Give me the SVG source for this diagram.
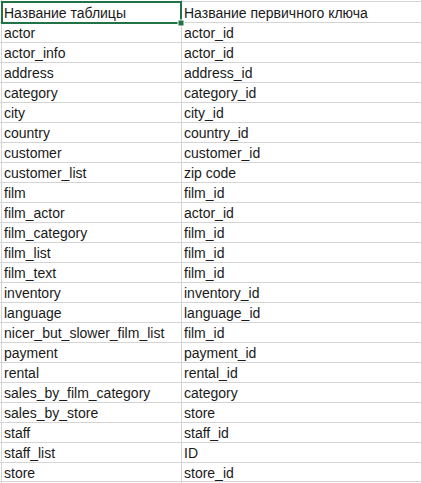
<svg xmlns="http://www.w3.org/2000/svg" width="422" height="483" viewBox="0 0 422 483">
<style>
text{font-family:"Liberation Sans",Arial,sans-serif;font-size:14px;fill:#1a1a1a}
.g{stroke:#d4d4d4;stroke-width:1;fill:none}
.sel{fill:none;stroke:#217346;stroke-width:2}
</style>
<rect width="422" height="483" fill="#ffffff"/>
<g id="grid">
<path class="g" d="M0 1.5H422M0 22.5H422M0 42.5H422M0 62.5H422M0 82.5H422M0 102.5H422M0 122.5H422M0 142.5H422M0 162.5H422M0 182.5H422M0 202.5H422M0 222.5H422M0 242.5H422M0 262.5H422M0 282.5H422M0 302.5H422M0 322.5H422M0 342.5H422M0 362.5H422M0 382.5H422M0 402.5H422M0 422.5H422M0 442.5H422M0 462.5H422M0 481.5H422"/>
<path class="g" d="M1.5 0V483M181.5 0V483M421.5 0V483"/>
</g>
<g id="header">
<text x="4" y="18">Название таблицы</text>
<text x="184" y="18">Название первичного ключа</text>
</g>
<g id="r1"><text x="4" y="38">actor</text><text x="184" y="38">actor_id</text></g>
<g id="r2"><text x="4" y="58">actor_info</text><text x="184" y="58">actor_id</text></g>
<g id="r3"><text x="4" y="78">address</text><text x="184" y="78">address_id</text></g>
<g id="r4"><text x="4" y="98">category</text><text x="184" y="98">category_id</text></g>
<g id="r5"><text x="4" y="118">city</text><text x="184" y="118">city_id</text></g>
<g id="r6"><text x="4" y="138">country</text><text x="184" y="138">country_id</text></g>
<g id="r7"><text x="4" y="158">customer</text><text x="184" y="158">customer_id</text></g>
<g id="r8"><text x="4" y="178">customer_list</text><text x="184" y="178">zip code</text></g>
<g id="r9"><text x="4" y="198">film</text><text x="184" y="198">film_id</text></g>
<g id="r10"><text x="4" y="218">film_actor</text><text x="184" y="218">actor_id</text></g>
<g id="r11"><text x="4" y="238">film_category</text><text x="184" y="238">film_id</text></g>
<g id="r12"><text x="4" y="258">film_list</text><text x="184" y="258">film_id</text></g>
<g id="r13"><text x="4" y="278">film_text</text><text x="184" y="278">film_id</text></g>
<g id="r14"><text x="4" y="298">inventory</text><text x="184" y="298">inventory_id</text></g>
<g id="r15"><text x="4" y="318">language</text><text x="184" y="318">language_id</text></g>
<g id="r16"><text x="4" y="338">nicer_but_slower_film_list</text><text x="184" y="338">film_id</text></g>
<g id="r17"><text x="4" y="358">payment</text><text x="184" y="358">payment_id</text></g>
<g id="r18"><text x="4" y="378">rental</text><text x="184" y="378">rental_id</text></g>
<g id="r19"><text x="4" y="398">sales_by_film_category</text><text x="184" y="398">category</text></g>
<g id="r20"><text x="4" y="418">sales_by_store</text><text x="184" y="418">store</text></g>
<g id="r21"><text x="4" y="438">staff</text><text x="184" y="438">staff_id</text></g>
<g id="r22"><text x="4" y="458">staff_list</text><text x="184" y="458">ID</text></g>
<g id="r23"><text x="4" y="478">store</text><text x="184" y="478">store_id</text></g>
<g id="selection">
<rect class="sel" x="2" y="2" width="179" height="21"/>
<rect x="178" y="20" width="6" height="6" fill="#217346" stroke="#ffffff" stroke-width="1"/>
</g>
</svg>
